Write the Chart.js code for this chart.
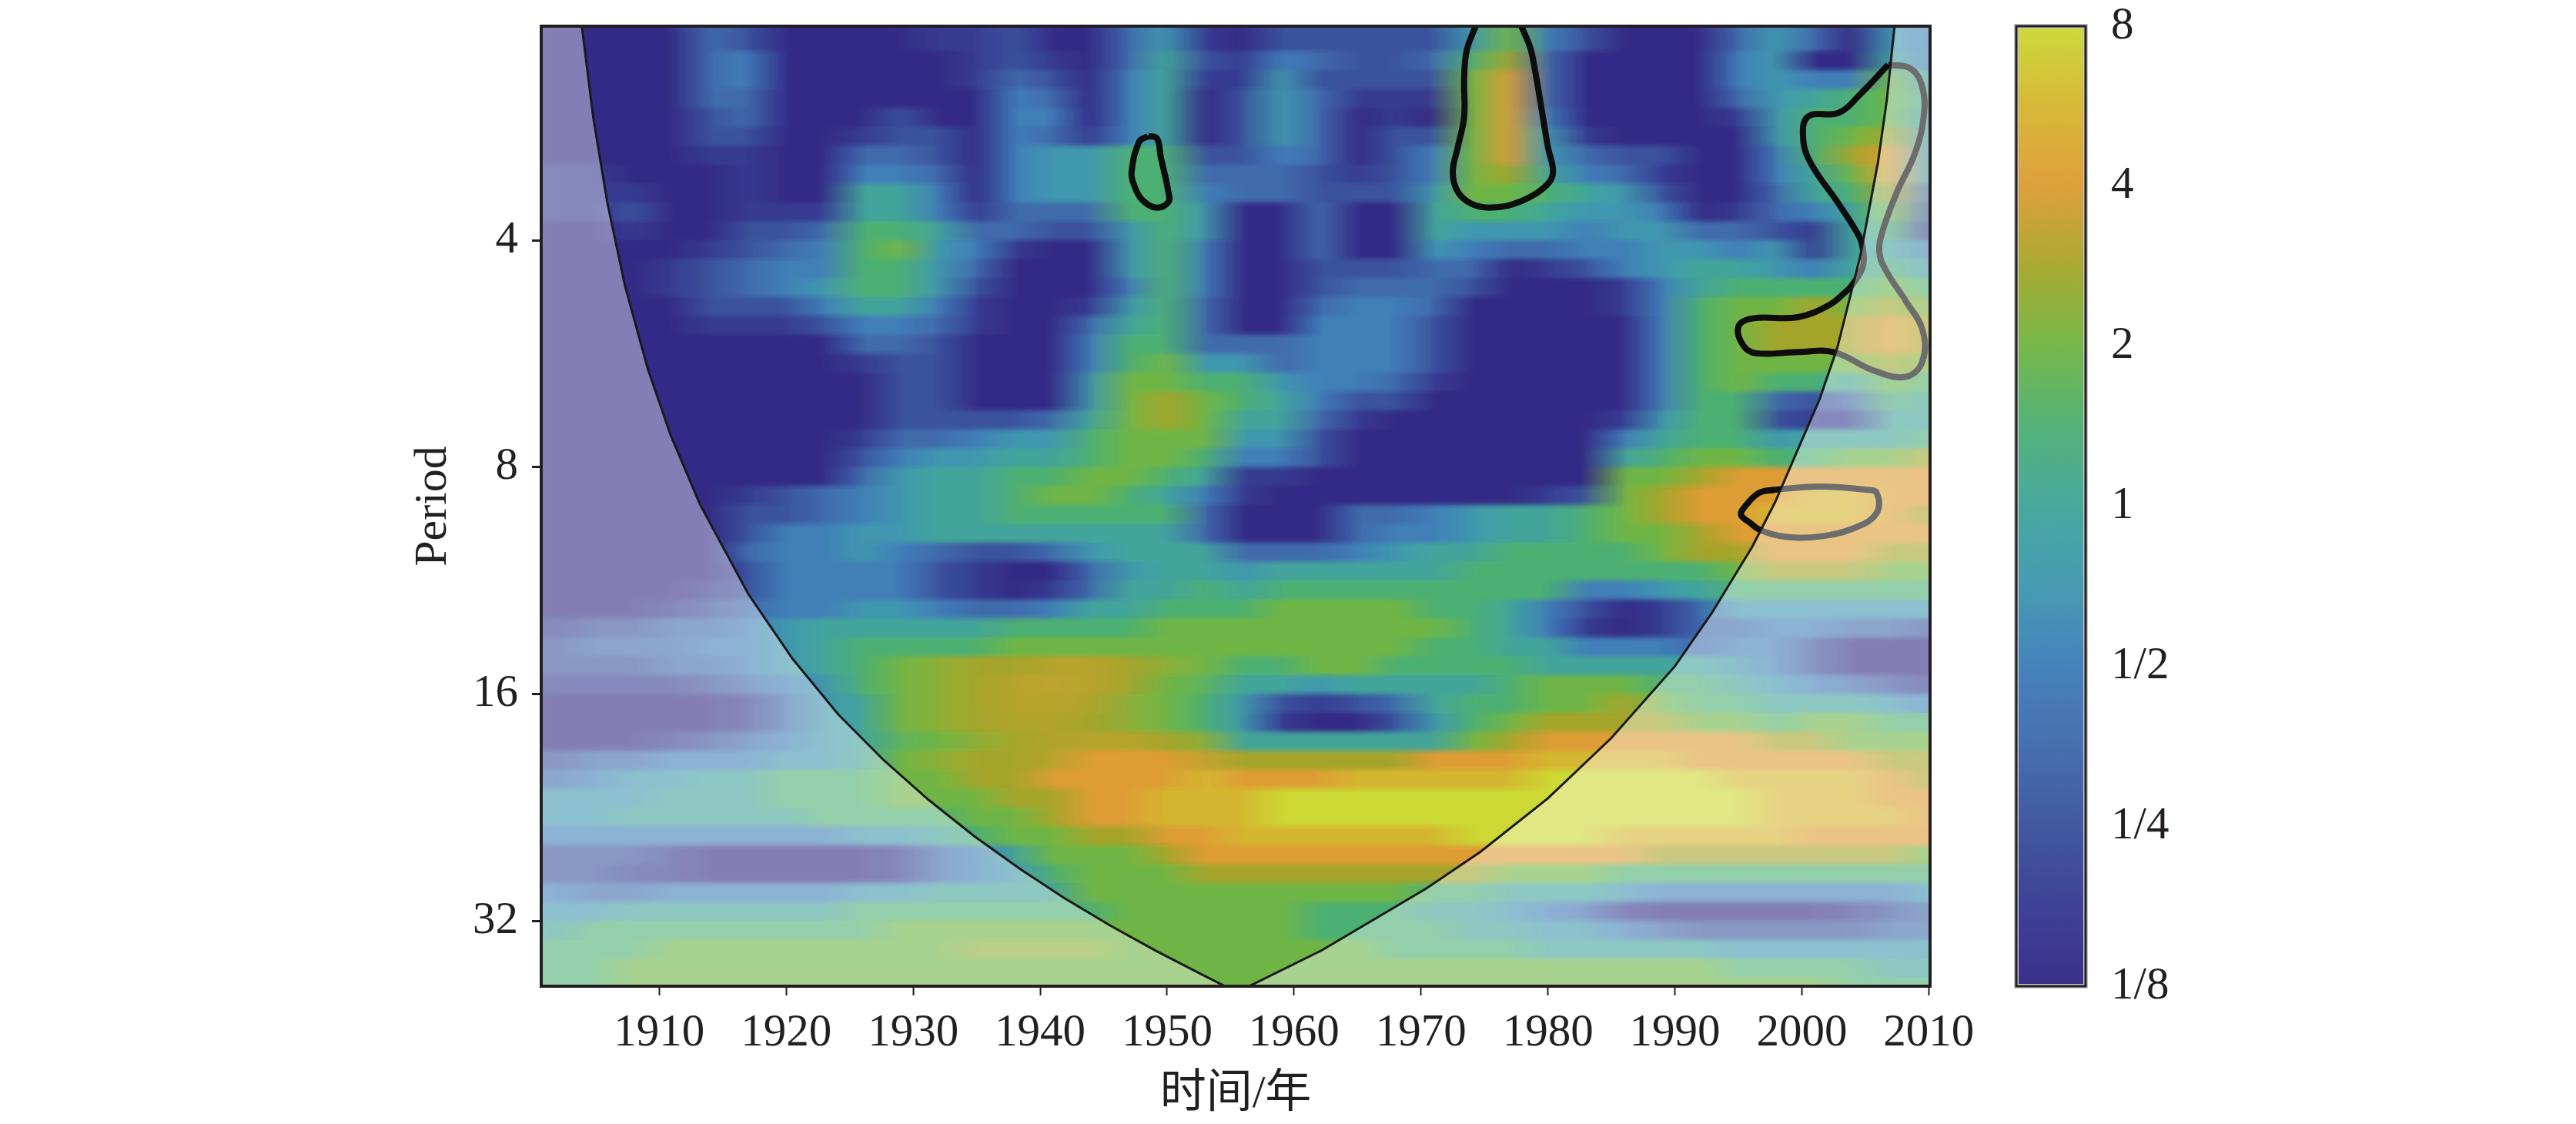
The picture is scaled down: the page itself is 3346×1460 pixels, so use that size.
<!DOCTYPE html>
<html>
<head>
<meta charset="utf-8">
<title>Wavelet power spectrum</title>
<script src="https://cdn.jsdelivr.net/npm/chart.js@4/dist/chart.umd.js"></script>
<style>
    body { margin: 0; background: #fff; width: 3346px; height: 1460px; overflow: hidden; position: relative; }
    canvas { position: absolute; top: 0; }
    #spectrumChart { left: 0; }
    #colorbarChart { left: 2500px; }
</style>
</head>
<body>
<canvas id="spectrumChart" width="3346" height="1460"></canvas>
<canvas id="colorbarChart" width="500" height="1460"></canvas>
<script>
// Axis ticks
const yearTicks = [1910, 1920, 1930, 1940, 1950, 1960, 1970, 1980, 1990, 2000, 2010];
const periodTicks = [4, 8, 16, 32];
const colorbarTicks = [0.125, 0.25, 0.5, 1, 2, 4, 8];
const colorbarLabels = ['1/8', '1/4', '1/2', '1', '2', '4', '8'];

// Colour of each power level, 1/8 up to 8 in half octaves
const levelColors = ['#3b3089', '#3e4296', '#4258a0', '#4670af', '#4682bb', '#469bb2', '#48a99f',
    '#55b278', '#75b84b', '#aaaa32', '#dea03c', '#d7b937', '#cdd93a'];

// Column years of the heat map (one value every third year)
const columnYears = [1902, 1905, 1908, 1911, 1914, 1917, 1920, 1923, 1926, 1929, 1932, 1935, 1938,
    1941, 1944, 1947, 1950, 1953, 1956, 1959, 1962, 1965, 1968, 1971, 1974, 1977, 1980, 1983,
    1986, 1989, 1992, 1995, 1998, 2001, 2004, 2007, 2010];

// Power level read per cell, one row per 1/12 octave of period, short periods first
const powerRows = [
    [0,0,0,0,3,2,0,0,0,0,1,1,2,0,0,3,5,1,0,2,2,2,2,2,5,8,4,2,0,0,0,3,5,3,0,5,4],
    [0,0,0,0,3,4,0,0,0,0,0,1,2,1,0,3,6,2,1,4,3,2,2,3,7,9,3,0,0,0,0,4,5,0,0,6,4],
    [0,0,0,0,3,4,0,0,0,0,0,1,3,2,0,4,6,1,1,5,2,2,2,2,8,10,3,0,0,0,0,4,5,4,4,8,5],
    [0,0,0,0,3,3,0,0,0,0,0,0,4,3,0,4,6,0,2,5,3,1,1,1,8,10,3,0,0,0,0,3,5,6,7,8,6],
    [0,0,0,0,2,3,0,0,0,2,0,0,4,4,0,4,6,0,2,5,3,0,1,0,8,10,4,0,0,0,0,1,5,7,7,8,5],
    [0,0,0,0,2,2,0,0,1,2,2,0,4,3,1,4,6,0,2,5,3,0,2,2,8,10,5,1,0,0,0,0,5,7,8,9,5],
    [0,0,0,0,1,1,0,0,3,3,2,0,4,5,5,7,7,2,2,4,3,0,2,4,8,10,5,3,2,2,0,0,4,7,9,10,5],
    [1,1,0,0,0,1,0,0,4,4,3,0,4,5,5,7,7,3,3,3,2,1,2,4,8,9,6,4,3,1,0,0,4,6,8,10,5],
    [1,1,1,0,0,1,0,0,6,6,4,0,4,5,5,7,7,4,3,3,2,2,2,5,8,8,7,6,5,2,0,0,3,6,7,9,3],
    [1,1,2,0,0,1,1,1,6,6,4,1,3,3,3,7,7,5,0,0,3,0,0,6,7,7,6,5,5,4,0,1,3,4,6,8,2],
    [0,0,1,0,0,2,2,3,7,7,6,3,3,2,2,5,7,5,0,0,3,0,0,6,5,5,5,4,5,5,3,3,2,1,6,7,1],
    [0,0,0,0,1,2,3,4,7,8,5,4,1,0,0,5,7,4,0,0,3,0,0,5,4,3,3,4,4,5,5,4,5,1,6,6,4],
    [0,0,0,1,2,3,4,4,7,7,5,3,0,0,0,5,7,4,0,0,2,2,2,3,3,0,1,2,4,5,6,6,5,4,6,7,5],
    [0,0,0,1,2,3,4,5,7,7,5,2,0,0,0,4,7,4,0,0,2,3,3,3,2,0,0,0,1,4,6,7,7,7,7,8,7],
    [0,0,0,0,2,2,2,4,6,6,4,1,0,0,1,5,7,3,0,0,3,4,4,3,0,0,0,0,1,4,7,8,8,9,8,9,8],
    [0,0,0,0,1,1,1,2,4,4,3,1,0,0,3,6,7,3,0,0,4,4,4,2,0,0,0,0,0,4,7,8,9,9,9,10,9],
    [0,0,0,0,0,0,0,0,3,3,2,0,0,0,4,7,7,3,3,3,4,4,4,2,0,0,0,0,0,4,7,8,9,9,9,10,9],
    [0,0,0,0,0,0,0,0,1,2,2,0,0,0,4,7,8,5,5,3,4,4,4,2,0,0,0,0,0,4,7,8,8,8,8,9,8],
    [0,0,0,0,0,0,0,0,0,2,2,0,0,0,5,8,8,7,7,5,4,4,3,1,0,0,0,0,0,4,7,8,7,7,6,8,7],
    [0,0,0,0,0,0,0,0,0,2,2,0,0,0,5,8,9,8,7,6,4,2,2,0,0,0,0,0,0,4,7,7,3,2,3,7,6],
    [0,0,0,0,0,0,0,0,0,2,2,2,2,3,6,8,9,8,6,6,3,1,0,0,0,0,0,0,1,5,7,7,2,1,1,6,6],
    [0,0,0,0,0,0,0,0,1,3,3,4,5,5,7,8,8,8,5,5,2,0,0,0,0,0,0,0,4,6,7,7,5,6,6,6,7],
    [0,0,0,0,0,0,0,0,2,4,5,5,6,6,7,8,8,7,4,4,2,0,0,0,0,0,0,0,6,7,8,8,7,7,8,8,9],
    [0,0,0,0,0,0,0,0,3,5,6,6,7,7,8,8,7,6,1,1,0,0,0,0,0,0,0,0,8,8,9,10,10,10,10,10,10],
    [0,0,0,0,0,1,2,3,4,5,6,6,7,8,8,7,6,4,1,0,0,0,0,0,0,0,1,2,8,9,10,10,10,11,11,10,10],
    [0,0,0,0,0,2,2,3,4,5,6,6,7,7,7,7,7,3,0,0,0,3,3,4,5,6,6,7,8,9,10,10,11,11,11,10,9],
    [0,0,0,0,0,2,4,4,5,5,6,6,6,6,6,6,6,3,0,0,0,3,4,4,5,6,6,7,8,8,9,10,10,10,10,10,10],
    [0,0,0,0,0,3,4,4,5,4,3,2,2,3,5,6,6,6,3,3,3,4,5,6,6,7,7,7,7,8,9,9,10,10,10,9,9],
    [0,0,0,0,0,2,4,4,4,4,2,1,0,0,3,5,6,6,5,6,6,6,6,6,7,7,7,7,7,7,7,8,9,9,9,8,8],
    [0,0,0,0,1,2,4,4,4,4,2,1,0,1,3,6,6,7,6,7,7,7,7,7,7,7,7,4,4,5,6,7,7,7,7,7,7],
    [0,0,0,1,2,3,4,4,5,5,4,3,3,4,6,6,7,7,7,8,8,8,8,7,7,6,4,2,0,1,3,5,5,5,5,5,5],
    [1,2,2,3,3,4,5,6,6,6,6,6,7,7,7,7,8,8,8,8,8,8,8,8,7,6,4,1,0,1,3,3,4,4,3,3,2],
    [2,3,3,3,4,4,5,6,7,7,7,7,8,8,8,8,8,8,8,8,8,8,8,7,7,6,6,4,4,4,3,4,4,2,0,0,0],
    [2,2,2,3,3,4,5,6,7,8,8.5,9,9,9.3,9.3,9,8.5,8,7,7,8,8,7,7,7,7,6,6,6,6,6,5,4,2,0,0,0],
    [1,1,1,1,2,3,4,5,7,8,8.5,9,9.3,9.4,9.3,9,8,7.5,6,6,5,6,6,6,6,7,8,8,8,7,7,6,5,4,3,2,1],
    [0,0,0,0,0,1,3,5,6,8,8.5,9,9.3,9.3,9.2,8.5,8,7,5,2,1,2,3,6,7,7,8,8,9,8,7,7,6,6,6,5,4],
    [0,0,0,0,0,1,3,5,6,8,8.5,9,9.2,9.2,9,8.5,8,7,5,1,0,0,2,5,7,8,9,9,9,9,8,8,7,8,8,7,7],
    [0,0,0,1,2,3,4,5,6,7.5,8,8.5,9,9.2,9.3,9.3,9,8.5,6,6,6,6,6,6,8,9,10,10,10,10,10,10,9,9,8,8,8],
    [2,3,3,4,4,4,5,5,6,8,8.5,9,9,9.3,10,10,10,9.5,9,9,9,9,9,10,10,10,11,11,11,11,10,10,10,10,10,9,9],
    [3,4,5,5,6,6,7,7,7,8,8,9,9,10,10,10,10,11,10,10,10,11,11,11,11,11,12,12,12,12,12,11,11,11,11,10,9],
    [5,5,5,6,6,6,7,7,7,8,8,8,9,9,10,10,11,11,11,12,12,12,12,12,12,12,12,12,12,12,12,12,11,11,11,10,10],
    [5,5,6,6,6,6,6,7,7,7,7,8,8,9,10,10,11,11,11,12,12,12,12,12,12,12,12,12,12,12,12,12,11,11,11,11,10],
    [4,4,4,4,4,4,4,4,5,5,6,7,8,8,9,9,10,10,11,11,11,11,11,11,12,12,12,12,11,11,11,11,11,10,10,10,10],
    [2,2,2,1,0,0,0,0,0,1,3,4,6,8,8,8,9,10,10,10,10,10,10,10,10,10,10,10,10,9,9,9,9,9,9,9,8],
    [2,2,1,1,0,0,0,0,0,1,3,4,5,7,8,8,8,9,9,9,9,9,9,9,9,8,8,8,7,7,7,7,7,7,7,7,7],
    [4,3,3,4,4,4,4,4,5,5,6,6,6,6,8,8,8,8,8,8,8,8,8,7,7,6,6,6,5,4,4,4,4,4,4,4,5],
    [5,5,6,6,6,6,6,6,7,7,7,7,7,7,7,8,8,8,8,8,7,7,7,6,6,5,4,3,1,0,0,0,0,0,1,2,3],
    [6,7,7,7,7,7,7,7,7,8,8,8,8,8,8,8,8,8,8,8,7,7,7,7,6,6,5,5,4,3,2,2,2,2,2,3,3],
    [7,7,7,8,8,8,8,8,8,8,8,8.5,8.5,8.5,8.5,8,8,8,8,8,8,8,7,7,7,7,6,6,6,6,6,5,5,5,5,5,5],
    [7,7,8,8,8,8,8,8,8,8,8,8,8,8,8,8,8,8,8,8,8,8,8,8,8,8,8,8,8,8,8,7,7,7,7,6,6],
    [7,7,8,8,8,8,8,8,8,8,8,8,8,8,8,8,8,8,8,8,8,8,8,8,8,8,8,8,8,8,8,8,8,8,7,7,7]
];

// Cone of influence, left branch then right branch
const coneYears = [1900.7, 1903.9, 1904.8, 1905.9, 1907.3, 1909.1, 1910.9, 1913.2, 1917.0, 1920.5, 1924.1,
    1927.7, 1931.2, 1934.8, 1938.4, 1941.9, 1945.5, 1949.1, 1952.6, 1955.5, 1962.2, 1970.4, 1974.7,
    1980.0, 1985.0, 1990.0, 1992.9, 1996.1, 1997.9, 2001.4, 2002.8, 2004.6, 2006.0, 2006.7, 2007.3, 2010.1];
const conePeriods = [2.08, 2.08, 2.75, 3.56, 4.6, 5.93, 7.26, 8.96, 11.78, 14.37, 17.03,
    19.6, 22.1, 24.7, 27.3, 29.85, 32.45, 35.05, 37.6, 39.8, 35.0, 29.0, 25.9,
    22.0, 18.3, 14.7, 12.5, 10.2, 8.9, 6.5, 5.55, 4.2, 3.15, 2.6, 2.08, 2.08];

// Significance contours
const contourAYears = [1948.5, 1949.2, 1949.5, 1950.1, 1950.1, 1949.1, 1948.0, 1947.4, 1947.2, 1947.8, 1948.5];
const contourAPeriods = [2.91, 2.93, 3.10, 3.45, 3.56, 3.62, 3.53, 3.38, 3.25, 2.96, 2.91];

const contourBYears = [1974.3, 1973.6, 1973.4, 1973.4, 1972.9, 1972.5, 1972.9, 1974.0, 1975.6, 1977.9, 1979.9,
    1980.4, 1980.0, 1979.5, 1979.0, 1978.6, 1977.9];
const contourBPeriods = [2.08, 2.24, 2.44, 2.74, 3.01, 3.25, 3.45, 3.58, 3.62, 3.55, 3.38,
    3.25, 3.01, 2.68, 2.39, 2.22, 2.08];

const contourCYears = [2006.8, 2004.6, 2002.9, 2000.5, 2000.1, 2000.7, 2002.9, 2004.5, 2004.8, 2004.8, 2003.9,
    2003.4, 2002.2, 1999.7, 1996.1, 1995.0, 1995.4, 1996.4, 1999.7, 2002.5, 2005.7, 2008.2, 2009.5, 2009.5,
    2008.2, 2006.6, 2006.1, 2006.4, 2007.5, 2008.9, 2009.6, 2009.5, 2008.6, 2006.8];
const contourCPeriods = [2.34, 2.56, 2.71, 2.74, 2.93, 3.16, 3.58, 3.95, 4.10, 4.34, 4.60,
    4.69, 4.87, 5.06, 5.08, 5.21, 5.52, 5.65, 5.63, 5.63, 5.96, 6.07, 5.79, 5.26,
    4.82, 4.38, 4.14, 3.87, 3.45, 3.07, 2.74, 2.51, 2.37, 2.34];

const contourDYears = [1997.9, 2001.4, 2005.0, 2005.9, 2005.9, 2004.3, 2001.4, 1998.6, 1996.8, 1995.9, 1995.2,
    1995.6, 1996.6, 1997.9];
const contourDPeriods = [8.57, 8.49, 8.57, 8.66, 9.20, 9.61, 9.89, 9.89, 9.71, 9.48, 9.25,
    8.99, 8.66, 8.57];

const xMin = 1900.7, xMax = 2010.1, periodMin = 2.08, periodMax = 39.07;
const firstRowLog2 = 1.08;
const rowsPerOctave = 12;
const serifFont = '"Liberation Serif", "Noto Sans CJK SC", serif';
const axisColor = '#231f20';

// Period at the top edge of a heat map row
function rowEdge(row) {
    return Math.pow(2, firstRowLog2 + row / rowsPerOctave);
}

// Levels may be read between two colours of the bar
function colorOfLevel(level) {
    const low = Math.floor(level);
    const high = Math.min(low + 1, levelColors.length - 1);
    const mix = level - low;
    const rgb = hex => [1, 3, 5].map(i => parseInt(hex.slice(i, i + 2), 16));
    const a = rgb(levelColors[low]), b = rgb(levelColors[high]);
    return 'rgb(' + a.map((v, i) => Math.round(v + (b[i] - v) * mix)).join(',') + ')';
}

// One floating bar per cell, one dataset per row
function buildHeatDatasets() {
    return powerRows.map((row, r) => {
        const lo = r === 0 ? 2 : rowEdge(r);
        const hi = r === powerRows.length - 1 ? 40 : rowEdge(r + 1);
        return {
            type: 'bar',
            data: columnYears.map(year => ({ x: year, y: [lo, hi] })),
            backgroundColor: row.map(colorOfLevel),
            borderWidth: 0,
            inflateAmount: 1,
            grouped: false,
            barPercentage: 1,
            categoryPercentage: 1,
            order: 3
        };
    });
}

function buildContour(years, periods) {
    return {
        type: 'line',
        data: years.map((year, i) => ({ x: year, y: periods[i] })),
        borderColor: '#0d0d0d',
        borderWidth: 8,
        tension: 0.4,
        pointRadius: 0,
        fill: false,
        order: 2
    };
}

// Keep the axes from asking for room around the plot, the layout is fixed
function dropScalePadding(axis) {
    axis.paddingTop = 0;
    axis.paddingBottom = 0;
    axis.paddingLeft = 0;
    axis.paddingRight = 0;
}

// Run the finished cells together along the time axis, the rows stay sharp
const smoothHeatPlugin = {
    id: 'smoothHeat',
    afterDatasetDraw(chart, args) {
        if (args.index !== 0) return;
        const { ctx, chartArea } = chart;
        const w = chartArea.width, h = chartArea.height;
        const copy = document.createElement('canvas');
        copy.width = w;
        copy.height = h;
        copy.getContext('2d').drawImage(chart.canvas, chartArea.left, chartArea.top, w, h, 0, 0, w, h);
        ctx.save();
        ctx.beginPath();
        ctx.rect(chartArea.left, chartArea.top, w, h);
        ctx.clip();
        ctx.filter = 'blur(3px)';
        const steps = 18;
        for (let k = 0; k < steps; k++) {
            const dx = (k - (steps - 1) / 2) * 3.5;
            ctx.globalAlpha = 1 / (k + 1);
            ctx.drawImage(copy, chartArea.left + dx, chartArea.top);
        }
        ctx.restore();
    }
};

const framePlugin = {
    id: 'frame',
    afterDraw(chart, args, opts) {
        const { ctx, chartArea } = chart;
        ctx.save();
        if (opts.halo) {
            ctx.strokeStyle = opts.halo;
            ctx.lineWidth = 6;
            ctx.strokeRect(chartArea.left, chartArea.top, chartArea.width, chartArea.height);
        }
        ctx.strokeStyle = axisColor;
        ctx.lineWidth = opts.width;
        ctx.strokeRect(chartArea.left, chartArea.top, chartArea.width, chartArea.height);
        ctx.restore();
    }
};

// Main wavelet power chart
function initializeSpectrumChart() {
    const ctx = document.getElementById('spectrumChart').getContext('2d');

    new Chart(ctx, {
        data: {
            datasets: [
                ...buildHeatDatasets(),
                buildContour(contourAYears, contourAPeriods),
                buildContour(contourBYears, contourBPeriods),
                buildContour(contourCYears, contourCPeriods),
                buildContour(contourDYears, contourDPeriods),
                {
                    type: 'line',
                    data: coneYears.map((year, i) => ({ x: year, y: conePeriods[i] })),
                    borderColor: '#1a1a1a',
                    borderWidth: 3,
                    backgroundColor: 'rgba(255, 255, 255, 0.4)',
                    fill: 'start',
                    tension: 0,
                    pointRadius: 0,
                    order: 1
                }
            ]
        },
        options: {
            responsive: false,
            animation: false,
            devicePixelRatio: 1,
            layout: { padding: { top: 34, right: 839, left: 0, bottom: 0 } },
            scales: {
                x: {
                    type: 'linear',
                    offset: false,
                    min: xMin,
                    max: xMax,
                    afterBuildTicks: axis => { axis.ticks = yearTicks.map(value => ({ value })); },
                    afterFit: axis => { axis.height = 179; dropScalePadding(axis); },
                    grid: { offset: false, drawOnChartArea: false, tickLength: 12, tickWidth: 2, tickColor: axisColor },
                    border: { display: false },
                    ticks: {
                        autoSkip: false,
                        maxRotation: 0,
                        padding: 14,
                        color: axisColor,
                        font: { family: serifFont, size: 59 },
                        callback: value => String(value)
                    },
                    title: {
                        display: true,
                        text: '时间/年',
                        color: axisColor,
                        padding: { top: 0, bottom: 2 },
                        font: { family: serifFont, size: 60 }
                    }
                },
                y: {
                    type: 'logarithmic',
                    reverse: true,
                    min: periodMin,
                    max: periodMax,
                    afterBuildTicks: axis => { axis.ticks = periodTicks.map(value => ({ value })); },
                    afterFit: axis => { axis.width = 703; dropScalePadding(axis); },
                    grid: { drawOnChartArea: false, tickLength: 12, tickWidth: 3, tickColor: axisColor },
                    border: { display: false },
                    ticks: {
                        autoSkip: false,
                        padding: 18,
                        color: axisColor,
                        font: { family: serifFont, size: 59 },
                        callback: value => String(value)
                    },
                    title: {
                        display: true,
                        text: 'Period',
                        color: axisColor,
                        padding: { top: 527, bottom: 0 },
                        font: { family: serifFont, size: 60 }
                    }
                }
            },
            plugins: {
                legend: { display: false },
                tooltip: { enabled: false },
                frame: { width: 4 }
            }
        },
        plugins: [smoothHeatPlugin, framePlugin]
    });
}

// Colour bar with its own log axis
function initializeColorbarChart() {
    const ctx = document.getElementById('colorbarChart').getContext('2d');

    new Chart(ctx, {
        type: 'bar',
        data: {
            labels: [''],
            datasets: [{
                data: [[colorbarTicks[0], colorbarTicks[colorbarTicks.length - 1]]],
                barPercentage: 1,
                categoryPercentage: 1,
                borderWidth: 0,
                backgroundColor: context => {
                    const area = context.chart.chartArea;
                    if (!area) return levelColors[0];
                    const gradient = context.chart.ctx.createLinearGradient(0, area.bottom, 0, area.top);
                    levelColors.forEach((color, i) => gradient.addColorStop(i / (levelColors.length - 1), color));
                    return gradient;
                }
            }]
        },
        options: {
            responsive: false,
            animation: false,
            devicePixelRatio: 1,
            layout: { padding: { top: 34, right: 91, left: 119, bottom: 179 } },
            scales: {
                x: { display: false },
                y: {
                    type: 'logarithmic',
                    position: 'right',
                    min: colorbarTicks[0],
                    max: colorbarTicks[colorbarTicks.length - 1],
                    afterBuildTicks: axis => { axis.ticks = colorbarTicks.map(value => ({ value })); },
                    afterFit: axis => { axis.width = 200; dropScalePadding(axis); },
                    grid: { offset: false, drawOnChartArea: false, tickLength: -10, tickWidth: 2, tickColor: axisColor },
                    border: { display: false },
                    ticks: {
                        autoSkip: false,
                        padding: 43,
                        color: axisColor,
                        font: { family: serifFont, size: 59 },
                        callback: (value, index) => colorbarLabels[index]
                    }
                }
            },
            plugins: {
                legend: { display: false },
                tooltip: { enabled: false },
                frame: { width: 3, halo: '#c4c4c4' }
            }
        },
        plugins: [framePlugin]
    });
}

initializeSpectrumChart();
initializeColorbarChart();
</script>
</body>
</html>
